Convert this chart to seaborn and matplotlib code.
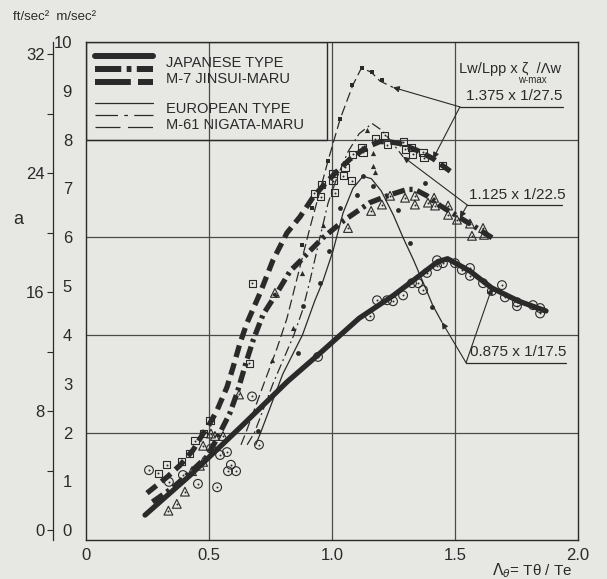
import numpy as np
import pandas as pd
import matplotlib
matplotlib.use("Agg")
import matplotlib.pyplot as plt
import seaborn as sns
from matplotlib.patches import Rectangle
from matplotlib.ticker import FixedLocator

# ---------------- data ----------------
# Japanese type, M-7 JINSUI-MARU (thick lines)
jp0875_x = [0.24, 0.42, 0.63, 0.82, 0.95, 1.11, 1.25, 1.36, 1.43, 1.47, 1.56, 1.65, 1.76, 1.87]
jp0875_y = [0.31, 1.11, 2.12, 3.05, 3.62, 4.34, 4.81, 5.23, 5.50, 5.56, 5.31, 4.96, 4.69, 4.49]

jp1125_x = [0.27, 0.35, 0.42, 0.49, 0.53, 0.585, 0.614, 0.654, 0.68, 0.72, 0.776, 0.83, 0.87, 0.91,
            0.963, 1.05, 1.154, 1.236, 1.305, 1.337, 1.386, 1.439, 1.52, 1.589, 1.663]
jp1125_y = [0.58, 0.86, 1.17, 1.50, 1.85, 2.40, 2.81, 3.49, 3.90, 4.42, 4.86, 5.31, 5.51, 5.72,
            5.99, 6.35, 6.71, 6.87, 6.98, 6.98, 6.85, 6.65, 6.40, 6.19, 5.95]

jp1375_x = [0.248, 0.33, 0.382, 0.435, 0.476, 0.504, 0.533, 0.573, 0.598, 0.626, 0.654, 0.707, 0.76,
            0.817, 0.87, 0.923, 0.963, 1.02, 1.073, 1.142, 1.195, 1.24, 1.276, 1.346, 1.411, 1.492]
jp1375_y = [0.76, 1.09, 1.33, 1.64, 1.98, 2.19, 2.46, 2.93, 3.34, 3.83, 4.24, 4.85, 5.53,
            6.09, 6.42, 6.82, 7.05, 7.35, 7.60, 7.85, 7.96, 7.95, 7.92, 7.78, 7.61, 7.31]

# European type, M-61 NIGATA-MARU (thin lines)
eu0875_x = [0.69, 0.71, 0.80, 0.88, 0.93, 0.963, 1.004, 1.045, 1.085, 1.126, 1.16, 1.20, 1.25,
            1.29, 1.33, 1.37, 1.41, 1.447]
eu0875_y = [1.75, 2.00, 3.20, 4.00, 4.70, 5.10, 5.72, 6.50, 7.00, 7.25, 7.20, 6.95, 6.45,
            5.98, 5.55, 5.08, 4.60, 4.26]

eu1125_x = [0.655, 0.685, 0.76, 0.845, 0.88, 0.91, 0.951, 0.984, 1.02, 1.065, 1.11, 1.163,
            1.20, 1.235, 1.289]
eu1125_y = [1.75, 2.00, 3.00, 4.00, 4.50, 5.10, 6.00, 6.70, 7.22, 7.75, 8.12, 8.33,
            8.20, 8.00, 7.65]

eu1375_x = [0.63, 0.65, 0.72, 0.776, 0.817, 0.858, 0.91, 0.951, 0.984, 1.033, 1.085, 1.12,
            1.16, 1.195, 1.248]
eu1375_y = [1.75, 2.00, 2.96, 3.72, 4.34, 5.16, 6.19, 6.95, 7.57, 8.42, 9.12, 9.47,
            9.38, 9.20, 9.07]

# measured points
jp_circ_x = [1.154, 1.183, 1.224, 1.248, 1.289, 1.325, 1.35, 1.37, 1.386, 1.427, 1.427, 1.451, 1.5,
             1.528, 1.561, 1.561, 1.614, 1.65, 1.691, 1.703, 1.752, 1.752, 1.817, 1.846, 1.846,
             0.256, 0.337, 0.394, 0.455, 0.533, 0.589, 0.577, 0.61, 0.545, 0.573, 0.508, 0.675,
             0.703, 0.943]
jp_circ_y = [4.38, 4.71, 4.71, 4.69, 4.81, 5.06, 5.06, 4.92, 5.27, 5.53, 5.41, 5.47, 5.47,
             5.33, 5.37, 5.21, 5.06, 4.90, 5.02, 4.77, 4.59, 4.67, 4.61, 4.55, 4.44,
             1.23, 0.99, 1.13, 0.95, 0.88, 1.34, 1.21, 1.21, 1.54, 1.60, 1.67, 2.74,
             1.75, 3.55]

jp_tri_x = [1.065, 1.159, 1.203, 1.236, 1.297, 1.337, 1.337, 1.39, 1.415, 1.419, 1.472, 1.472,
            1.508, 1.561, 1.569, 1.614, 1.618, 0.768, 0.622, 0.557, 0.524, 0.508, 0.476, 0.476,
            0.463, 0.431, 0.402, 0.369, 0.335]
jp_tri_y = [6.19, 6.54, 6.67, 6.85, 6.81, 6.85, 6.67, 6.71, 6.81, 6.65, 6.65, 6.46,
            6.36, 6.28, 6.03, 6.19, 6.05, 4.86, 2.78, 1.93, 1.93, 1.98, 1.73, 1.40,
            1.32, 1.21, 0.79, 0.54, 0.40]

jp_sq_x = [0.927, 0.954, 0.959, 1.004, 1.004, 1.012, 1.045, 1.053, 1.081, 1.085, 1.122, 1.126,
           1.175, 1.215, 1.224, 1.289, 1.297, 1.329, 1.325, 1.37, 1.374, 1.451,
           0.663, 0.504, 0.476, 0.443, 0.419, 0.390, 0.329, 0.293, 0.676]
jp_sq_y = [6.90, 6.83, 7.08, 7.16, 7.30, 6.91, 7.26, 7.43, 7.16, 7.70, 7.84, 7.74,
           8.02, 8.09, 7.90, 7.96, 7.80, 7.70, 7.84, 7.74, 7.63, 7.47,
           3.42, 2.24, 1.98, 1.83, 1.58, 1.40, 1.34, 1.17, 5.06]

eu_dot_x = [0.699, 0.862, 0.882, 0.951, 0.988, 1.033, 1.10, 1.126, 1.167, 1.268, 1.317, 1.378, 1.406]
eu_dot_y = [2.04, 3.62, 4.59, 5.06, 5.72, 6.60, 6.87, 7.26, 7.06, 6.56, 5.88, 7.12, 4.57]

eu_tri_x = [0.756, 0.841, 0.878, 0.963, 1.142, 1.167, 1.167, 1.175]
eu_tri_y = [3.48, 4.14, 5.27, 6.26, 8.19, 7.72, 7.45, 7.33]

eu_sq_x = [0.878, 0.919, 0.984, 1.033, 1.081, 1.122, 1.163, 1.203]
eu_sq_y = [5.84, 6.60, 7.57, 8.42, 9.12, 9.47, 9.38, 9.22]

x_ticks = [0, 0.5, 1.0, 1.5, 2.0]
x_tick_labels = ["0", "0.5", "1.0", "1.5", "2.0"]
m_ticks = list(range(0, 11))
ft_ticks = [0, 8, 16, 24, 32]
ft_minor = [4, 12, 20, 28]

# ---------------- style ----------------
sns.set_theme(style="white")
plt.rcParams['font.family'] = ['Liberation Sans', 'DejaVu Sans']
BG = '#e7e7e3'
INK = '#2a2a2a'
GRID = '#4a4a4a'

fig = plt.figure(figsize=(6.07, 5.79), dpi=100, facecolor=BG)
ax = fig.add_axes([0.1417, 0.0674, 0.8105, 0.8601])
ax.set_facecolor(BG)
ax.set_xlim(0, 2)
ax.set_ylim(-0.2, 10)

for v in [0.5, 1.0, 1.5]:
    ax.axvline(v, color=GRID, lw=0.9, zorder=1)
for h in [2, 4, 6, 8]:
    ax.axhline(h, color=GRID, lw=0.9, zorder=1)

for s in ax.spines.values():
    s.set_color(INK)
    s.set_linewidth(1.0)

ax.set_xticks(x_ticks)
ax.set_xticklabels(x_tick_labels)
ax.set_yticks(m_ticks)
ax.tick_params(axis='x', length=0, pad=6, labelsize=12, colors=INK)
ax.tick_params(axis='y', direction='out', length=4, width=0.8, pad=6, labelsize=12, colors=INK)
ax.set_xlabel("")
ax.set_ylabel("")

sec = ax.secondary_yaxis(-0.067, functions=(lambda m: m / 0.3048, lambda f: f * 0.3048))
sec.set_yticks(ft_ticks)
sec.yaxis.set_minor_locator(FixedLocator(ft_minor))
sec.tick_params(which='both', direction='out', width=0.8, colors=INK, labelsize=12, pad=2)
sec.tick_params(which='major', length=4)
sec.tick_params(which='minor', length=4)
sec.spines['left'].set_color(INK)
sec.spines['left'].set_linewidth(0.9)

# ---------------- curves ----------------
THICK = 3.8
THIN = 0.9
sty = {
    'solid': '-',
    'dashdot_thick': (0, (2.4, 0.9, 0.6, 0.9)),
    'dash_thick': (0, (2.3, 1.2)),
    'dashdot_thin': (0, (8, 3, 1.5, 3)),
    'dash_thin': (0, (8, 3.5)),
}
series = [
    (jp0875_x, jp0875_y, THICK, sty['solid']),
    (jp1125_x, jp1125_y, THICK, sty['dashdot_thick']),
    (jp1375_x, jp1375_y, THICK, sty['dash_thick']),
    (eu0875_x, eu0875_y, THIN, sty['solid']),
    (eu1125_x, eu1125_y, THIN, sty['dashdot_thin']),
    (eu1375_x, eu1375_y, THIN, sty['dash_thin']),
]
for xs, ys, lw, ls in series:
    sns.lineplot(x=xs, y=ys, ax=ax, color=INK, lw=lw, linestyle=ls,
                 estimator=None, sort=False, zorder=4)

# ---------------- markers ----------------
def open_marks(xs, ys, marker, size):
    sns.scatterplot(x=xs, y=ys, ax=ax, marker=marker, s=size, color=INK,
                    facecolor='none', edgecolor=INK, linewidth=0.8, zorder=5)
    sns.scatterplot(x=xs, y=ys, ax=ax, marker='o', s=2, color=INK,
                    edgecolor=INK, linewidth=0, zorder=6)

open_marks(jp_circ_x, jp_circ_y, 'o', 40)
open_marks(jp_tri_x, jp_tri_y, '^', 40)
open_marks(jp_sq_x, jp_sq_y, 's', 26)

sns.scatterplot(x=eu_dot_x, y=eu_dot_y, ax=ax, marker='o', s=12, color=INK, edgecolor=INK,
                linewidth=0, zorder=6)
sns.scatterplot(x=eu_tri_x, y=eu_tri_y, ax=ax, marker='^', s=14, color=INK, edgecolor=INK,
                linewidth=0, zorder=6)
sns.scatterplot(x=eu_sq_x, y=eu_sq_y, ax=ax, marker='s', s=10, color=INK, edgecolor=INK,
                linewidth=0, zorder=6)

# ---------------- legend box ----------------
ax.add_patch(Rectangle((0, 8), 0.98, 2, fill=False, ec=INK, lw=1.0, zorder=3))
leg_x = [0.037, 0.272]
ax.plot(leg_x, [9.72, 9.72], color=INK, lw=4.3, ls='-', zorder=4)
ax.plot(leg_x, [9.45, 9.45], color=INK, lw=4.3, ls=(0, (4.4, 0.9, 0.8, 0.9)), zorder=4)
ax.plot(leg_x, [9.19, 9.19], color=INK, lw=4.3, ls=(0, (6.0, 1.2)), zorder=4)
ax.plot(leg_x, [8.75, 8.75], color=INK, lw=THIN, ls='-', zorder=4)
ax.plot(leg_x, [8.51, 8.51], color=INK, lw=THIN, ls=(0, (18, 5, 3, 5)), zorder=4)
ax.plot(leg_x, [8.26, 8.26], color=INK, lw=THIN, ls=(0, (20, 6)), zorder=4)
tkw = dict(fontsize=10.5, color=INK, va='center', ha='left', zorder=6)
ax.text(0.325, 9.57, "JAPANESE TYPE", **tkw)
ax.text(0.325, 9.25, "M-7 JINSUI-MARU", **tkw)
ax.text(0.325, 8.63, "EUROPEAN TYPE", **tkw)
ax.text(0.325, 8.30, "M-61 NIGATA-MARU", **tkw)

# ---------------- annotations ----------------
ax.text(1.515, 9.45, "Lw/Lpp x ζ  /Λw", fontsize=10.5, color=INK, va='center', ha='left')
ax.text(1.755, 9.22, "w-max", fontsize=7, color=INK, va='center', ha='left')

def label_group(x0, x1, y, text, targets):
    ax.plot([x0, x1], [y, y], color=INK, lw=0.9, zorder=4)
    ax.text((x0 + x1) / 2 + 0.01, y + 0.07, text, fontsize=11, color=INK,
            ha='center', va='bottom', zorder=6)
    for tx, ty in targets:
        ax.annotate("", xy=(tx, ty), xytext=(x0, y),
                    arrowprops=dict(arrowstyle='-|>', color=INK, lw=0.8,
                                    mutation_scale=9, shrinkA=0, shrinkB=0), zorder=5)

label_group(1.52, 1.94, 8.67, "1.375 x 1/27.5",
            [(eu1375_x[-1], eu1375_y[-1]), (jp1375_x[-2], jp1375_y[-2])])
label_group(1.55, 1.935, 6.66, "1.125 x 1/22.5",
            [(eu1125_x[-1], eu1125_y[-1]), (jp1125_x[-3], jp1125_y[-3])])
label_group(1.545, 1.95, 3.43, "0.875 x 1/17.5",
            [(eu0875_x[-1], eu0875_y[-1]), (jp0875_x[-3], jp0875_y[-3])])

# axis texts
fig.text(13 / 607, 1 - 17 / 579, "ft/sec²  m/sec²", fontsize=9.5, color=INK, va='center', ha='left')
fig.text(18 / 607, 1 - 220 / 579, "a", fontsize=13, color=INK, va='center', ha='center')
fig.text(532 / 607, 1 - 571 / 579, r"$\Lambda_{\theta}$= Tθ / Te", fontsize=11, color=INK,
         va='center', ha='center')

fig.savefig("out.png", dpi=100, facecolor=BG)
